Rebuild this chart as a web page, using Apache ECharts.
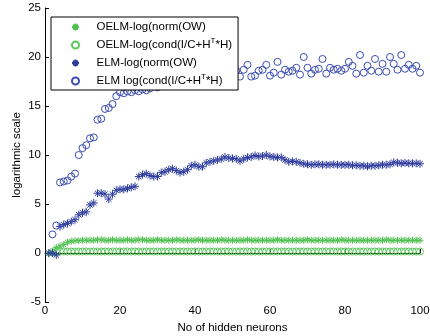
<!DOCTYPE html>
<html>
<head>
<meta charset="utf-8">
<script src="https://cdn.jsdelivr.net/npm/echarts@6/dist/echarts.min.js"></script>
<style>html,body{margin:0;padding:0;background:#fff}#c{width:430px;height:336px}</style>
</head>
<body>
<div id="c"></div>
<script>
const seriesNames = ['OELM-log(norm(OW)', 'OELM-log(cond(I/C+H^T*H)', 'ELM-log(norm(OW)', 'ELM log(cond(I/C+H^T*H)'];
const xTicks = [0, 20, 40, 60, 80, 100];
const yTicks = [-5, 0, 5, 10, 15, 20, 25];

// OELM norm, x = 1..100
const oelmNormStart = 1;
const oelmNorm = [-0.1, 0.05, 0.55, 0.7, 0.85, 1.1, 1.2, 1.25, 1.25, 1.3,
  1.3, 1.3, 1.3, 1.35, 1.35, 1.3, 1.3, 1.35, 1.3, 1.3,
  1.3, 1.35, 1.3, 1.3, 1.35, 1.35, 1.3, 1.3, 1.3, 1.35,
  1.3, 1.3, 1.3, 1.3, 1.35, 1.3, 1.3, 1.3, 1.3, 1.3,
  1.35, 1.3, 1.3, 1.3, 1.3, 1.3, 1.35, 1.3, 1.3, 1.3,
  1.3, 1.3, 1.3, 1.35, 1.3, 1.3, 1.3, 1.3, 1.3, 1.3,
  1.3, 1.35, 1.3, 1.3, 1.3, 1.3, 1.3, 1.3, 1.3, 1.35,
  1.3, 1.3, 1.3, 1.3, 1.3, 1.3, 1.3, 1.3, 1.35, 1.3,
  1.3, 1.3, 1.3, 1.3, 1.3, 1.3, 1.3, 1.3, 1.3, 1.3,
  1.35, 1.3, 1.3, 1.3, 1.3, 1.3, 1.3, 1.3, 1.3, 1.3];

// OELM cond, x = 2..100
const oelmCondStart = 2;
const oelmCond = [0.1, 0.1, 0.15, 0.15, 0.15, 0.15, 0.15, 0.15, 0.15, 0.15,
  0.15, 0.15, 0.15, 0.15, 0.15, 0.15, 0.15, 0.15, 0.15, 0.15,
  0.15, 0.15, 0.15, 0.15, 0.15, 0.15, 0.15, 0.15, 0.15, 0.15,
  0.15, 0.15, 0.15, 0.15, 0.15, 0.15, 0.15, 0.15, 0.15, 0.15,
  0.15, 0.15, 0.15, 0.15, 0.15, 0.15, 0.15, 0.15, 0.15, 0.15,
  0.15, 0.15, 0.15, 0.15, 0.15, 0.15, 0.15, 0.15, 0.15, 0.15,
  0.15, 0.15, 0.15, 0.15, 0.15, 0.15, 0.15, 0.15, 0.15, 0.15,
  0.15, 0.15, 0.15, 0.15, 0.15, 0.15, 0.15, 0.15, 0.15, 0.15,
  0.15, 0.15, 0.15, 0.15, 0.15, 0.15, 0.15, 0.15, 0.15, 0.15,
  0.15, 0.15, 0.15, 0.15, 0.15, 0.15, 0.15, 0.15, 0.15];

// ELM norm, x = 1..100
const elmNormStart = 1;
const elmNorm = [0.0, 0.0, -0.2, 2.7, 2.9, 3.0, 3.2, 3.4, 3.9, 4.1,
  4.2, 4.9, 5.1, 6.1, 6.1, 6.0, 5.5, 6.0, 6.4, 6.5,
  6.5, 6.6, 6.7, 6.8, 7.8, 8.0, 8.1, 7.9, 7.8, 7.8,
  8.2, 8.3, 8.5, 8.6, 8.4, 8.2, 8.3, 8.5, 8.9, 9.0,
  8.8, 8.8, 9.2, 9.3, 9.4, 9.5, 9.6, 9.8, 9.7, 9.65,
  9.6, 9.4, 9.6, 9.75, 9.8, 9.95, 9.85, 9.9, 10.0, 9.85,
  9.8, 9.75, 9.75, 9.5, 9.3, 9.35, 9.3, 9.2, 9.1, 9.05,
  9.0, 9.05, 9.05, 9.0, 9.0, 9.0, 9.05, 9.0, 9.0, 9.0,
  9.0, 8.95, 8.95, 8.9, 8.9, 8.85, 8.9, 8.9, 8.95, 9.0,
  9.0, 9.05, 9.25, 9.2, 9.15, 9.2, 9.15, 9.15, 9.15, 9.1];

// ELM cond, x = 2..100
const elmCondStart = 2;
const elmCond = [1.9, 2.8, 7.2, 7.3, 7.4, 7.8, 8.1, 10.0, 10.7, 11.0,
  11.7, 11.8, 13.6, 13.7, 14.7, 14.8, 15.2, 16.0, 16.4, 16.3,
  16.5, 16.4, 16.6, 16.5, 16.7, 16.6, 16.8, 17.2, 16.9, 17.5,
  17.2, 17.6, 17.4, 17.8, 17.5, 17.9, 18.1, 17.7, 18.2, 18.0,
  18.4, 17.9, 18.3, 18.6, 18.1, 18.5, 18.2, 18.8, 18.4, 18.6,
  18.0, 18.7, 19.2, 18.0, 18.1, 18.6, 18.7, 19.2, 18.1, 18.4,
  19.5, 18.2, 18.7, 18.5, 18.6, 18.9, 18.2, 20.0, 18.9, 18.3,
  18.7, 18.8, 19.8, 18.3, 18.9, 18.7, 18.8, 18.6, 18.8, 19.5,
  19.1, 18.3, 20.2, 18.4, 19.1, 18.6, 19.8, 18.5, 19.3, 18.5,
  20.0, 19.3, 18.7, 20.2, 18.8, 19.2, 18.8, 19.1, 18.4];

const green = '#4fbf4f';
const greenC = '#5cc85c';
const blue = '#2e3d9e';
const blueC = '#3b4cb3';
const FONT = 'Liberation Sans, Arial, sans-serif';
const asterisk = 'path://M0,5L10,5M5,0L5,10M1.6,1.6L8.4,8.4M1.6,8.4L8.4,1.6';

function pairs(start, arr) { return arr.map((v, i) => [start + i, v]); }
function legendText(name) {
  const parts = name.split('^T');
  if (parts.length === 1) return '{n|' + name + '}';
  return '{n|' + parts[0] + '}{sup|T}{n|' + parts[1] + '}';
}

const chart = echarts.init(document.getElementById('c'), null, {renderer: 'canvas'});
chart.setOption({
  animation: false,
  backgroundColor: '#fff',
  grid: {left: 45, right: 10, top: 8, bottom: 34, containLabel: false, outerBoundsMode: 'none'},
  xAxis: {
    type: 'value', min: xTicks[0], max: xTicks[xTicks.length - 1], interval: 20,
    name: 'No of hidden neurons', nameLocation: 'middle', nameGap: 15,
    nameTextStyle: {color: '#000', fontSize: 11.5, fontFamily: FONT},
    axisLine: {show: true, lineStyle: {color: '#000', width: 1}},
    axisTick: {show: true, inside: true, length: 4, lineStyle: {color: '#000'}},
    axisLabel: {color: '#000', fontSize: 11.5, fontFamily: FONT, margin: 3},
    splitLine: {show: false}
  },
  yAxis: {
    type: 'value', min: yTicks[0], max: yTicks[yTicks.length - 1], interval: 5,
    name: 'logarithmic scale', nameLocation: 'middle', nameGap: 22, nameRotate: 90,
    nameMoveOverlap: false,
    nameTextStyle: {color: '#000', fontSize: 11.5, fontFamily: FONT},
    axisLine: {show: true, onZero: false, lineStyle: {color: '#000', width: 1}},
    axisTick: {show: true, inside: true, length: 4, lineStyle: {color: '#000'}},
    axisLabel: {color: '#000', fontSize: 11.5, fontFamily: FONT, margin: 4},
    splitLine: {show: false}
  },
  legend: {
    orient: 'vertical', left: 51, top: 17,
    backgroundColor: '#fff', borderColor: '#000', borderWidth: 1, borderRadius: 0,
    padding: [3, 6, 1, 20], itemGap: 3, itemWidth: 32, itemHeight: 7,
    data: [
      {name: seriesNames[0], icon: asterisk},
      {name: seriesNames[1]},
      {name: seriesNames[2], icon: asterisk},
      {name: seriesNames[3]}
    ],
    formatter: legendText,
    textStyle: {color: '#000', fontSize: 11.5, fontFamily: FONT, lineHeight: 14,
      rich: {
        n: {fontSize: 11.5, fontFamily: FONT, color: '#000', lineHeight: 14},
        sup: {fontSize: 8, fontFamily: FONT, color: '#000', padding: [0, 0, 8, 0], lineHeight: 14}
      }}
  },
  series: [
    {name: seriesNames[0], type: 'scatter', data: pairs(oelmNormStart, oelmNorm), symbol: asterisk, symbolSize: 7,
      itemStyle: {color: 'rgba(0,0,0,0)', borderColor: green, borderWidth: 1, opacity: 1}},
    {name: seriesNames[1], type: 'scatter', data: pairs(oelmCondStart, oelmCond), symbol: 'circle', symbolSize: 7,
      itemStyle: {color: 'rgba(0,0,0,0)', borderColor: greenC, borderWidth: 1, opacity: 1}},
    {name: seriesNames[2], type: 'scatter', data: pairs(elmNormStart, elmNorm), symbol: asterisk, symbolSize: 8,
      itemStyle: {color: 'rgba(0,0,0,0)', borderColor: blue, borderWidth: 1, opacity: 1}},
    {name: seriesNames[3], type: 'scatter', data: pairs(elmCondStart, elmCond), symbol: 'circle', symbolSize: 7,
      itemStyle: {color: 'rgba(0,0,0,0)', borderColor: blueC, borderWidth: 1, opacity: 1}}
  ]
});
</script>
</body>
</html>
